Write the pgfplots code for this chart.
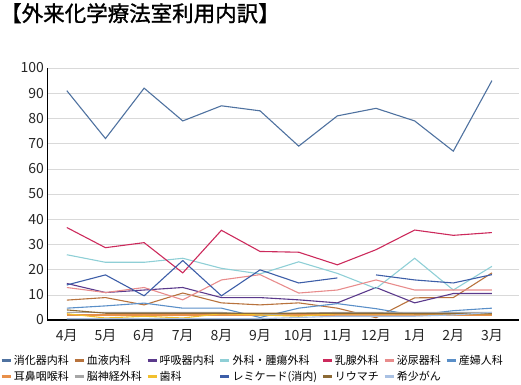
\documentclass[border=0pt]{standalone}
\usepackage{fontspec}
\setmainfont{Noto Sans CJK JP}
\newfontfamily\titlefont[FakeBold=1.2]{Noto Sans CJK JP}
\usepackage{pgfplots}
\pgfplotsset{compat=1.18}
\definecolor{cShoka}{HTML}{4F72A0}
\definecolor{cKetsu}{HTML}{B8733D}
\definecolor{cKokyu}{HTML}{5B3A8C}
\definecolor{cGeka}{HTML}{8FCFD6}
\definecolor{cNyusen}{HTML}{CC2A5C}
\definecolor{cHinyo}{HTML}{E88C8C}
\definecolor{cSanfu}{HTML}{5A8FC8}
\definecolor{cJibi}{HTML}{E8904A}
\definecolor{cNoshin}{HTML}{A6A6A6}
\definecolor{cShika}{HTML}{F2C02E}
\definecolor{cRemi}{HTML}{3D5EA8}
\definecolor{cRiuma}{HTML}{8C6A35}
\definecolor{cKisho}{HTML}{A9C1E3}
\begin{document}
\begin{tikzpicture}
\path[use as bounding box] (0pt,0pt) rectangle (521pt,384pt);
\node[anchor=north west,inner sep=0pt,font=\titlefont\fontsize{21.5}{24}\selectfont] at (0pt,381pt) {【外来化学療法室利用内訳】};
\begin{axis}[
  at={(47.5pt,64pt)}, anchor=south west,
  scale only axis, width=471.5pt, height=252pt,
  xmin=-0.5, xmax=11.7, ymin=0, ymax=100,
  axis lines=left, axis line style={line width=1.2pt, black, -},
  xtick={0,...,11},
  xticklabels={4月,5月,6月,7月,8月,9月,10月,11月,12月,1月,2月,3月},
  ytick={0,10,...,100},
  major tick length=0pt,
  ymajorgrids, grid style={line width=0.6pt, color=black!15},
  tick label style={font=\fontsize{14}{16}\selectfont, color=black!85},
  xticklabel style={yshift=-6pt},
  /pgf/number format/assume math mode=true,
  unbounded coords=jump,
  every axis plot/.append style={line width=1.1pt, mark=none},
  legend columns=7,
  legend cell align=left,
  legend style={at={(-0.1,-0.13)}, anchor=north west, draw=none, fill=none,
    font=\fontsize{11}{13}\selectfont, inner sep=0pt, row sep=1.5pt,
    /tikz/every even column/.append style={column sep=2.5pt}},
  legend image code/.code={\draw[line width=2.4pt] (0pt,0pt) -- (9pt,0pt);},
]
\addplot[cShoka] coordinates {(0,91) (1,72) (2,92) (3,79) (4,85) (5,83) (6,69) (7,81) (8,84) (9,79) (10,67) (11,95)};
\addlegendentry{消化器内科}
\addplot[cKetsu] coordinates {(0,7.9) (1,8.9) (2,6) (3,10.7) (4,6.8) (5,6) (6,6.8) (7,4.7) (8,0.9) (9,8.8) (10,8.9) (11,18.7)};
\addlegendentry{血液内科}
\addplot[cKokyu] coordinates {(0,14.5) (1,10.9) (2,11.9) (3,12.9) (4,8.9) (5,8.9) (6,8) (7,6.8) (8,12.9) (9,6.8) (10,10.5) (11,10.5)};
\addlegendentry{呼吸器内科}
\addplot[cGeka] coordinates {(0,25.9) (1,22.9) (2,22.9) (3,24.5) (4,20.5) (5,18.3) (6,23.1) (7,18.5) (8,12.5) (9,24.5) (10,11.9) (11,21.3)};
\addlegendentry{外科・腫瘍外科}
\addplot[cNyusen] coordinates {(0,36.7) (1,28.7) (2,30.7) (3,18.7) (4,35.6) (5,27.2) (6,26.9) (7,21.9) (8,27.9) (9,35.7) (10,33.6) (11,34.7)};
\addlegendentry{乳腺外科}
\addplot[cHinyo] coordinates {(0,12.9) (1,10.9) (2,12.9) (3,8) (4,15.9) (5,18) (6,10.7) (7,11.9) (8,15.9) (9,11.9) (10,11.9) (11,11.9)};
\addlegendentry{泌尿器科}
\addplot[cSanfu] coordinates {(0,4.7) (1,5.6) (2,6.7) (3,4.7) (4,4.7) (5,1) (6,4.7) (7,6.5) (8,4.5) (9,1.9) (10,3.7) (11,4.7)};
\addlegendentry{産婦人科}
\addplot[cJibi] coordinates {(0,2) (1,2) (2,2) (3,2) (4,2) (5,2) (6,2) (7,2) (8,2) (9,2) (10,2) (11,2)};
\addlegendentry{耳鼻咽喉科}
\addplot[cNoshin] coordinates {(0,3) (1,3) (2,3) (3,3) (4,3) (5,2) (6,2.7) (7,3) (8,3) (9,3) (10,3) (11,3)};
\addlegendentry{脳神経外科}
\addplot[cShika] coordinates {(0,2.5) (1,0.8) (2,1.5) (3,0.8) (4,2.5) (5,2) (6,1.5) (7,2.5) (8,2.5) (9,2.5) (10,2.5) (11,2.5)};
\addlegendentry{歯科}
\addplot[cRemi] coordinates {(0,13.9) (1,17.9) (2,9.6) (3,23.6) (4,9.6) (5,19.9) (6,14.7) (7,16.7) (7.5,nan) (8,17.9) (9,15.9) (10,14.7) (11,18)};
\addlegendentry{レミケード(消内)}
\addplot[cRiuma] coordinates {(0,4) (1,2.7) (2,2.7) (3,2.7) (4,2.7) (5,2.7) (6,2.7) (7,2.7) (8,2.7) (9,2.5) (10,2.5) (11,2.5)};
\addlegendentry{リウマチ}
\addplot[cKisho] coordinates {(0,0.5) (1,0.5) (2,0.5) (3,0.5) (4,0.5) (5,0.5) (6,1) (7,1.5) (8,1.5) (9,1.5) (10,2) (11,3)};
\addlegendentry{希少がん}
\end{axis}
\end{tikzpicture}
\end{document}
